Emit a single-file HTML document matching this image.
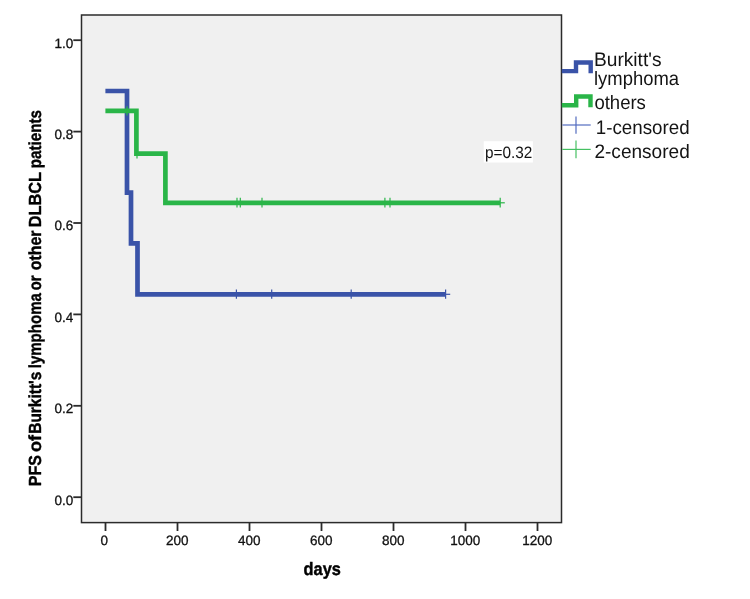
<!DOCTYPE html>
<html>
<head>
<meta charset="utf-8">
<title>PFS chart</title>
<style>
html,body{margin:0;padding:0;background:#ffffff;}
body{width:750px;height:599px;overflow:hidden;font-family:"Liberation Sans",sans-serif;}
svg{display:block;will-change:transform;}
text{text-rendering:geometricPrecision;}
text{font-family:"Liberation Sans",sans-serif;}
svg{fill:#141414;}
</style>
</head>
<body>
<svg width="750" height="599" viewBox="0 0 750 599">
  <rect x="0" y="0" width="750" height="599" fill="#ffffff"/>
  <g opacity="0.999">
  <!-- plot area -->
  <rect x="81.5" y="15" width="480" height="507.6" fill="#f0f0f0" stroke="#2b2b2b" stroke-width="1.5"/>

  <!-- y ticks -->
  <g stroke="#2b2b2b" stroke-width="1.8">
    <line x1="73.3" y1="40.2" x2="81.5" y2="40.2"/>
    <line x1="73.3" y1="131.6" x2="81.5" y2="131.6"/>
    <line x1="73.3" y1="223" x2="81.5" y2="223"/>
    <line x1="73.3" y1="314.4" x2="81.5" y2="314.4"/>
    <line x1="73.3" y1="405.8" x2="81.5" y2="405.8"/>
    <line x1="73.3" y1="497.2" x2="81.5" y2="497.2"/>
  </g>
  <!-- x ticks -->
  <g stroke="#2b2b2b" stroke-width="1.8">
    <line x1="105.5" y1="522.6" x2="105.5" y2="531"/>
    <line x1="177.5" y1="522.6" x2="177.5" y2="531"/>
    <line x1="249.5" y1="522.6" x2="249.5" y2="531"/>
    <line x1="321.5" y1="522.6" x2="321.5" y2="531"/>
    <line x1="393.5" y1="522.6" x2="393.5" y2="531"/>
    <line x1="465.5" y1="522.6" x2="465.5" y2="531"/>
    <line x1="537.5" y1="522.6" x2="537.5" y2="531"/>
  </g>

  <!-- y tick labels -->
  <g font-size="13.5" text-anchor="end" fill="#111" stroke="#111" stroke-width="0.3">
    <text x="73.2" y="47.5">1.0</text>
    <text x="73.2" y="138.9">0.8</text>
    <text x="73.2" y="230.3">0.6</text>
    <text x="73.2" y="321.7">0.4</text>
    <text x="73.2" y="413.1">0.2</text>
    <text x="73.2" y="504.5">0.0</text>
  </g>
  <!-- x tick labels -->
  <g font-size="13.5" text-anchor="middle" fill="#111" stroke="#111" stroke-width="0.3">
    <text x="104.3" y="544.7">0</text>
    <text x="177.3" y="544.7">200</text>
    <text x="249.3" y="544.7">400</text>
    <text x="321.3" y="544.7">600</text>
    <text x="393.3" y="544.7">800</text>
    <text x="465.3" y="544.7">1000</text>
    <text x="537.3" y="544.7">1200</text>
  </g>

  <!-- axis titles -->
  <text x="303.6" y="574.5" font-size="18" font-weight="bold" textLength="37.2" lengthAdjust="spacingAndGlyphs" fill="#000" stroke="#000" stroke-width="0.45">days</text>
  <g font-size="17.5" font-weight="bold" fill="#000" stroke="#000" stroke-width="0.4">
    <text transform="translate(41,486.3) rotate(-90)" textLength="31.2" lengthAdjust="spacingAndGlyphs">PFS</text>
    <text transform="translate(41,452.0) rotate(-90)" textLength="16.9" lengthAdjust="spacingAndGlyphs">of</text>
    <text transform="translate(41,433.8) rotate(-90)" textLength="62.2" lengthAdjust="spacingAndGlyphs">Burkitt's</text>
    <text transform="translate(41,368.3) rotate(-90)" textLength="75.2" lengthAdjust="spacingAndGlyphs">lymphoma</text>
    <text transform="translate(41,290.3) rotate(-90)" textLength="14.7" lengthAdjust="spacingAndGlyphs">or</text>
    <text transform="translate(41,270.3) rotate(-90)" textLength="39.7" lengthAdjust="spacingAndGlyphs">other</text>
    <text transform="translate(41,227.3) rotate(-90)" textLength="55.2" lengthAdjust="spacingAndGlyphs">DLBCL</text>
    <text transform="translate(41,168.3) rotate(-90)" textLength="58.4" lengthAdjust="spacingAndGlyphs">patients</text>
  </g>

  <!-- blue curve -->
  <polyline points="105.4,91 127,91 127,192.6 131,192.6 131,243.3 137.5,243.3 137.5,294.3 445.6,294.3" fill="none" stroke="#3a53a8" stroke-width="4.7" stroke-linejoin="miter" stroke-linecap="butt"/>
  <g stroke="#3a53a8" stroke-width="1.2">
    <line x1="236.4" y1="289.4" x2="236.4" y2="298.8"/>
    <line x1="271.7" y1="289.4" x2="271.7" y2="298.8"/>
    <line x1="351.2" y1="289.4" x2="351.2" y2="298.8"/>
    <line x1="445.6" y1="289.4" x2="445.6" y2="298.8"/>
    <line x1="441" y1="294.3" x2="450.2" y2="294.3"/>
  </g>

  <!-- green curve -->
  <polyline points="105.4,110.8 136.4,110.8 136.4,153.7 165.4,153.7 165.4,202.8 500.2,202.8" fill="none" stroke="#2ab548" stroke-width="4.7" stroke-linejoin="miter" stroke-linecap="butt"/>
  <g stroke="#2ab548" stroke-width="1.2">
    <line x1="127" y1="106.2" x2="127" y2="115.4"/>
    <line x1="137" y1="149" x2="137" y2="158.4"/>
    <line x1="237" y1="197.8" x2="237" y2="207.4"/>
    <line x1="240.3" y1="197.8" x2="240.3" y2="207.4"/>
    <line x1="262" y1="197.8" x2="262" y2="207.4"/>
    <line x1="384.9" y1="197.8" x2="384.9" y2="207.4"/>
    <line x1="390" y1="197.8" x2="390" y2="207.4"/>
    <line x1="500.2" y1="197.8" x2="500.2" y2="207.4"/>
    <line x1="495.6" y1="202.8" x2="504.8" y2="202.8"/>
  </g>

  <!-- p label -->
  <rect x="483.7" y="141.2" width="49.2" height="21.3" fill="#ffffff"/>
  <text x="485" y="157.7" font-size="16.5" textLength="47.4" lengthAdjust="spacingAndGlyphs">p=0.32</text>

  <!-- legend -->
  <polyline points="561.8,71.1 576,71.1 576,62.5 590.7,62.5 590.7,73.2" fill="none" stroke="#3a53a8" stroke-width="4.4"/>
  <polyline points="561.8,105.2 576.2,105.2 576.2,96.5 590.5,96.5 590.5,107.3" fill="none" stroke="#2ab548" stroke-width="4.4"/>
  <g stroke="#536cbf" stroke-width="1.2">
    <line x1="562.3" y1="125" x2="590.7" y2="125"/>
    <line x1="576" y1="116.6" x2="576" y2="133.8"/>
  </g>
  <g stroke="#45c062" stroke-width="1.2">
    <line x1="562.3" y1="149.4" x2="590.7" y2="149.4"/>
    <line x1="576" y1="140.6" x2="576" y2="158.2"/>
  </g>
  <g font-size="19.5">
    <text x="594" y="65.6" textLength="67.5" lengthAdjust="spacingAndGlyphs">Burkitt's</text>
    <text x="594" y="84.8" textLength="85" lengthAdjust="spacingAndGlyphs">lymphoma</text>
    <text x="594.4" y="109.3" textLength="51.5" lengthAdjust="spacingAndGlyphs">others</text>
    <text x="595.8" y="133.5" textLength="93.8" lengthAdjust="spacingAndGlyphs">1-censored</text>
    <text x="594.4" y="158.2" textLength="95.4" lengthAdjust="spacingAndGlyphs">2-censored</text>
  </g>
  </g>
</svg>
</body>
</html>
